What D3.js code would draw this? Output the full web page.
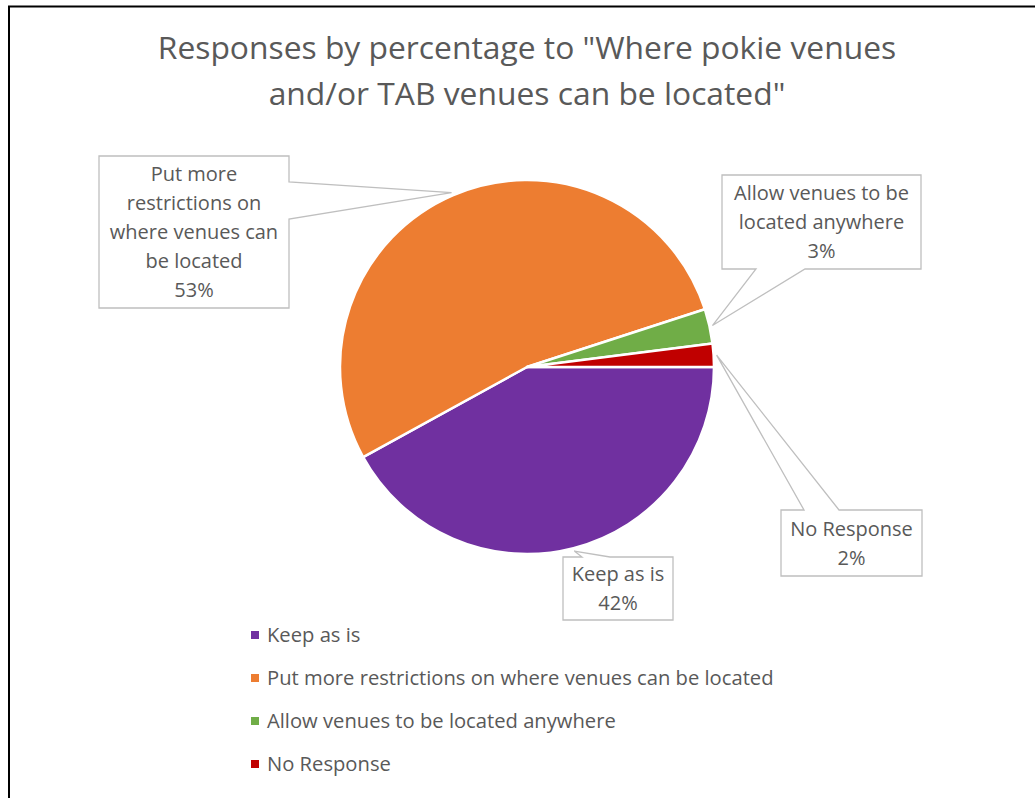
<!DOCTYPE html>
<html>
<head>
<meta charset="utf-8">
<script src="https://cdn.jsdelivr.net/npm/d3@7"></script>
<style>
  html, body { margin: 0; padding: 0; background: #fff; }
  svg { display: block; }
  text { font-family: "Open Sans", "Noto Sans", sans-serif; fill: #595959; }
</style>
</head>
<body>
<svg id="chart" width="1035" height="798"></svg>
<script>
// Survey responses (percent)
const categories = [
  "Keep as is",
  "Put more restrictions on where venues can be located",
  "Allow venues to be located anywhere",
  "No Response"
];
const values = [42, 53, 3, 2];
const colors = ["#7030A0", "#ED7D31", "#70AD47", "#C00000"];
// Wrapped category text used inside the data callouts
const calloutLines = [
  ["Keep as is"],
  ["Put more", "restrictions on", "where venues can", "be located"],
  ["Allow venues to be", "located anywhere"],
  ["No Response"]
];
const titleLines = [
  "Responses by percentage to \"Where pokie venues",
  "and/or TAB venues can be located\""
];

const W = 1035, H = 798;
const cx = 527, cy = 367, R = 187;

const svg = d3.select("#chart");

// frame
svg.append("path")
  .attr("d", `M9,${H} L9,6.5 L${W},6.5`)
  .attr("fill", "none")
  .attr("stroke", "#000")
  .attr("stroke-width", 2);

// title
const title = svg.append("text")
  .attr("text-anchor", "middle")
  .style("font-size", "31.8px");
titleLines.forEach((t, i) => {
  title.append("tspan").attr("x", cx).attr("y", 59 + i * 46).text(t);
});

// pie
const pie = d3.pie().sort(null).value(d => d)
  .startAngle(Math.PI / 2).endAngle(Math.PI / 2 + 2 * Math.PI);
const arcs = pie(values);
const arc = d3.arc().innerRadius(0).outerRadius(R);
const tipArc = d3.arc().innerRadius(R + 3).outerRadius(R + 3);

const g = svg.append("g").attr("transform", `translate(${cx},${cy})`);
g.selectAll("path.slice")
  .data(arcs)
  .join("path")
  .attr("class", "slice")
  .attr("d", arc)
  .attr("fill", (d, i) => colors[i])
  .attr("stroke", "#fff")
  .attr("stroke-width", 2.5)
  .attr("stroke-linejoin", "round");

// callout boxes: rectangle plus pointer toward the slice
const boxes = [
  { x: 563, y: 557, w: 110, h: 63, side: "top", b0: 582, b1: 610 },
  { x: 99, y: 156, w: 190, h: 152, side: "right", b0: 182, b1: 219 },
  { x: 722, y: 175, w: 199, h: 94, side: "bottom", b0: 756, b1: 805 },
  { x: 781, y: 510, w: 141, h: 66, side: "top", b0: 804, b1: 839 }
];

function calloutPath(b, tip) {
  const x0 = b.x, y0 = b.y, x1 = b.x + b.w, y1 = b.y + b.h;
  const p = d3.path();
  p.moveTo(x0, y0);
  if (b.side === "top") { p.lineTo(b.b0, y0); p.lineTo(tip[0], tip[1]); p.lineTo(b.b1, y0); }
  p.lineTo(x1, y0);
  if (b.side === "right") { p.lineTo(x1, b.b0); p.lineTo(tip[0], tip[1]); p.lineTo(x1, b.b1); }
  p.lineTo(x1, y1);
  if (b.side === "bottom") { p.lineTo(b.b1, y1); p.lineTo(tip[0], tip[1]); p.lineTo(b.b0, y1); }
  p.lineTo(x0, y1);
  p.closePath();
  return p.toString();
}

const callouts = svg.append("g");
arcs.forEach((d, i) => {
  const b = boxes[i];
  const c = tipArc.centroid(d);
  const tip = [c[0] + cx, c[1] + cy];
  callouts.append("path")
    .attr("d", calloutPath(b, tip))
    .attr("fill", "#fff")
    .attr("stroke", "#BFBFBF")
    .attr("stroke-width", 1.3);
  const lines = calloutLines[i].concat([values[i] + "%"]);
  const lh = 29;
  const midY = b.y + b.h / 2;
  const t = callouts.append("text")
    .attr("text-anchor", "middle")
    .style("font-size", "20px");
  lines.forEach((ln, k) => {
    t.append("tspan")
      .attr("x", b.x + b.w / 2)
      .attr("y", midY + (k - (lines.length - 1) / 2) * lh)
      .attr("dy", "0.36em")
      .text(ln);
  });
});

// legend
const legend = svg.append("g");
categories.forEach((c, i) => {
  const y = 635 + i * 43;
  legend.append("rect")
    .attr("x", 251).attr("y", y - 4)
    .attr("width", 8).attr("height", 8)
    .attr("fill", colors[i]);
  legend.append("text")
    .attr("x", 267).attr("y", y)
    .attr("dy", "0.36em")
    .style("font-size", "20.2px")
    .text(c);
});
</script>
</body>
</html>
